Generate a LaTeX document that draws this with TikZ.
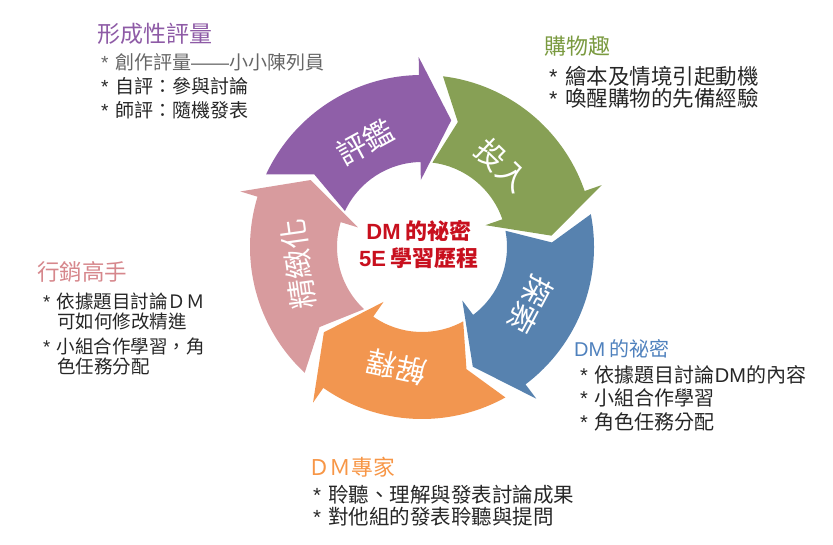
\documentclass[tikz,border=0pt]{standalone}
\usepackage{fontspec}
\setmainfont{Noto Sans CJK TC}
\newfontfamily\latinfont{Liberation Sans}
\usepackage{tikz}
\definecolor{evalpurple}{HTML}{8F5FA8}
\definecolor{engagegreen}{HTML}{87A055}
\definecolor{exploreblue}{HTML}{5782AF}
\definecolor{explainorange}{HTML}{F29650}
\definecolor{elabpink}{HTML}{D89B9E}
\definecolor{greenhead}{HTML}{7A9A40}
\definecolor{pinkhead}{HTML}{D6878C}
\definecolor{bluehead}{HTML}{4F81BD}
\definecolor{orangehead}{HTML}{F79646}
\definecolor{purplehead}{HTML}{8E5BA6}
\definecolor{corered}{HTML}{C8101E}
\newcommand{\bul}{{\latinfont *}\hspace{0.35em}}

\begin{document}
\begin{tikzpicture}[x=1pt,y=1pt]
\tikzstyle{every node}+=[inner sep=0pt]
\tikzstyle{heading}=[anchor=west,font=\fontsize{22}{26}\selectfont]
\tikzstyle{items}=[anchor=west,align=left,text=black!85]
\tikzstyle{stage}=[text=white,font=\fontsize{30}{30}\selectfont]
\useasboundingbox (0,0) rectangle (833,544);
\begin{scope}[shift={(422,297)}]
\fill [evalpurple] (155:172pt) arc [start angle=155,end angle=91,radius=172pt] -- (91:190pt) -- (77:130pt) -- (91:67pt) -- (91:85pt) arc [start angle=91,end angle=155,radius=85pt] -- (146:130pt) -- cycle;
\fill [engagegreen] (83:172pt) arc [start angle=83,end angle=19,radius=172pt] -- (19:190pt) -- (5:130pt) -- (19:67pt) -- (19:85pt) arc [start angle=19,end angle=83,radius=85pt] -- (74:130pt) -- cycle;
\fill [exploreblue] (11:172pt) arc [start angle=11,end angle=-53,radius=172pt] -- (-53:190pt) -- (-67:130pt) -- (-53:67pt) -- (-53:85pt) arc [start angle=-53,end angle=11,radius=85pt] -- (2:130pt) -- cycle;
\fill [explainorange] (-61:172pt) arc [start angle=-61,end angle=-125,radius=172pt] -- (-125:190pt) -- (-139:130pt) -- (-125:67pt) -- (-125:85pt) arc [start angle=-125,end angle=-61,radius=85pt] -- (-70:130pt) -- cycle;
\fill [elabpink] (227:172pt) arc [start angle=227,end angle=163,radius=172pt] -- (163:190pt) -- (149:130pt) -- (163:67pt) -- (163:85pt) arc [start angle=163,end angle=227,radius=85pt] -- (218:130pt) -- cycle;
% stage labels
\node [stage,rotate=28.5] (evaluate) at (118.5:119.5pt) {評鑑};
\node [stage,rotate=-44] (engage) at (45.7:114.6pt) {投入};
\node [stage,rotate=-118] (explore) at (-28:122.6pt) {探索};
\node [stage,rotate=168] (explain) at (258:122.6pt) {解釋};
\node [stage,rotate=98] (elaborate) at (188:125pt) {精緻化};
\node [align=center,text=corered,font=\bfseries\fontsize{22}{27}\selectfont] (core) at (-3,2.5) {{\latinfont DM} 的祕密\\{\latinfont 5E} 學習歷程};
\end{scope}
% evaluate notes
\node [heading,text=purplehead,font=\fontsize{23}{26}\selectfont] (evalhead) at (97,510) {形成性評量};
\node [items,font=\fontsize{19}{24}\selectfont] (evalitems) at (101,458) {\textcolor{black!60}{\bul 創作評量{\latinfont ——}小小陳列員}\\\bul 自評：參與討論\\\bul 師評：隨機發表};
% engage notes
\node [heading,text=greenhead] (engagehead) at (544,498) {購物趣};
\node [items,font=\fontsize{21.5}{22}\selectfont] (engageitems) at (549,456.5) {\bul 繪本及情境引起動機\\\bul 喚醒購物的先備經驗};
% elaborate notes
\node [heading,text=pinkhead,font=\fontsize{22.5}{26}\selectfont] (elabhead) at (37,272.3) {行銷高手};
\node [items,font=\fontsize{18.5}{20}\selectfont] (elabitems) at (43,209.8) {\bul 依據題目討論ＤＭ\\\hspace{14pt}可如何修改精進\\[5pt]\bul 小組合作學習，角\\\hspace{14pt}色任務分配};
% explore notes
\node [heading,text=bluehead,font=\fontsize{20}{24}\selectfont] (explorehead) at (574,195) {{\latinfont DM} 的祕密};
\node [items,font=\fontsize{20}{23.3}\selectfont] (exploreitems) at (580,145.7) {\bul 依據題目討論{\latinfont DM}的內容\\\bul 小組合作學習\\\bul 角色任務分配};
% explain notes
\node [heading,text=orangehead,font=\fontsize{21.7}{26}\selectfont] (explainhead) at (308,77.3) {ＤＭ專家};
\node [items,font=\fontsize{20.5}{21.7}\selectfont] (explainitems) at (313,38.2) {\bul 聆聽、理解與發表討論成果\\\bul 對他組的發表聆聽與提問};
\end{tikzpicture}
\end{document}
